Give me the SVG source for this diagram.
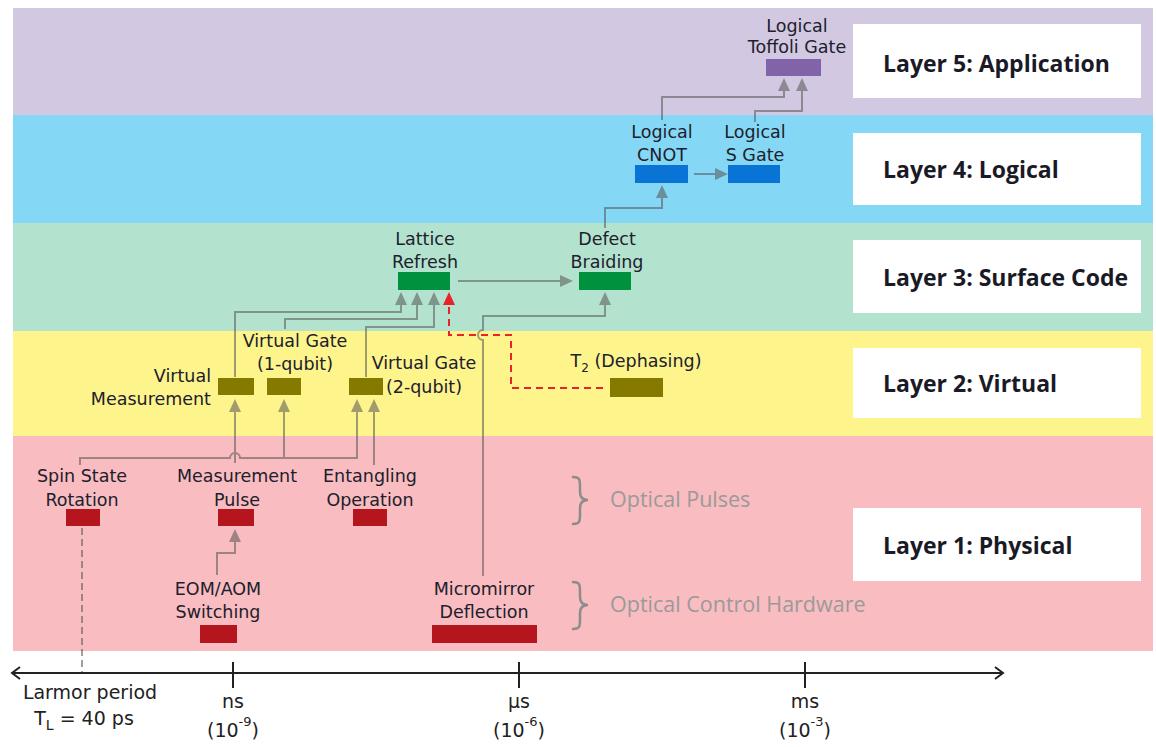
<svg xmlns="http://www.w3.org/2000/svg" width="1156" height="747" viewBox="0 0 1156 747">
<style>
.lbl{font-family:'DejaVu Sans',sans-serif;font-size:17.5px;fill:#20202c;text-anchor:middle}
.lblr{font-family:'DejaVu Sans',sans-serif;font-size:17.5px;fill:#20202c;text-anchor:end}
.layer{font-family:'Open Sans',sans-serif;font-weight:700;font-size:23px;fill:#1a1a26}
.note{font-family:'Open Sans',sans-serif;font-size:21.5px;fill:#9a9a9a}
.ax{font-family:'DejaVu Sans',sans-serif;font-size:19px;fill:#222;text-anchor:middle}
.box{fill:#ffffff}
.conn{fill:none;stroke:#555;stroke-width:2}
.red{fill:none;stroke:#e8232b;stroke-width:2;stroke-dasharray:7 5}
.brace{fill:none;stroke:#8c8c8c;stroke-width:2.5;stroke-linecap:round}
.axis{fill:none;stroke:#222;stroke-width:2}
.app{fill:#8063a9}.log{fill:#0a74d6}.sc{fill:#00913f}.vir{fill:#857900}.phy{fill:#b5161e}
</style>
<defs>
<marker id="ah" markerUnits="userSpaceOnUse" markerWidth="13" markerHeight="12" refX="0" refY="6" orient="auto" viewBox="0 0 13 12"><path d="M0,0 L13,6 L0,12 z" fill="#555"/></marker>
<marker id="ahr" markerUnits="userSpaceOnUse" markerWidth="13" markerHeight="12" refX="0" refY="6" orient="auto" viewBox="0 0 13 12"><path d="M0,0 L13,6 L0,12 z" fill="#e8232b"/></marker>
</defs>
<rect width="1156" height="747" fill="#ffffff"/>
<g id="bands">
<rect x="13" y="8" width="1140" height="107" fill="#d3c8e1"/>
<rect x="13" y="115" width="1140" height="108" fill="#84d8f5"/>
<rect x="13" y="223" width="1140" height="108" fill="#b3e3ce"/>
<rect x="13" y="331" width="1140" height="105" fill="#fef48c"/>
<rect x="13" y="436" width="1140" height="215" fill="#f9bcc0"/>
</g>
<g id="layer-labels">
<g id="layer5"><rect class="box" x="853" y="24" width="288" height="74"/><text class="layer" x="883" y="72">Layer 5: Application</text></g>
<g id="layer4"><rect class="box" x="853" y="133" width="288" height="72"/><text class="layer" x="883" y="178">Layer 4: Logical</text></g>
<g id="layer3"><rect class="box" x="853" y="240" width="288" height="73"/><text class="layer" x="883" y="286">Layer 3: Surface Code</text></g>
<g id="layer2"><rect class="box" x="853" y="348" width="288" height="70"/><text class="layer" x="883" y="392">Layer 2: Virtual</text></g>
<g id="layer1"><rect class="box" x="853" y="508" width="288" height="73"/><text class="layer" x="883" y="554">Layer 1: Physical</text></g>
</g>
<g id="connectors">
<g opacity="0.55">
<path class="conn" marker-end="url(#ah)" d="M662,120 V97 H784 V91"/>
<path class="conn" marker-end="url(#ah)" d="M755,122 V111 H802 V91"/>
<path class="conn" marker-end="url(#ah)" d="M694,174 H715"/>
<path class="conn" marker-end="url(#ah)" d="M605,228 V208 H662 V198"/>
<path class="conn" marker-end="url(#ah)" d="M458,281 H560"/>
<path class="conn" marker-end="url(#ah)" d="M235,377 V312 H401 V305"/>
<path class="conn" marker-end="url(#ah)" d="M285,329 V319 H417 V305"/>
<path class="conn" marker-end="url(#ah)" d="M366,377 V327 H434 V305"/>
<path class="conn" marker-end="url(#ah)" d="M483,576 V340 A5,5 0 0 1 483,330 V316 H605 V305"/>
<path class="conn" marker-end="url(#ah)" d="M80,465 V458 H230 A5,5 0 0 1 240,458 H357 V412"/>
<path class="conn" marker-end="url(#ah)" d="M284,458 V412"/>
<path class="conn" marker-end="url(#ah)" d="M235,463 V412"/>
<path class="conn" marker-end="url(#ah)" d="M374,465 V412"/>
<path class="conn" marker-end="url(#ah)" d="M217,575 V553 H235 V542"/>
<path class="conn" stroke-width="1.5" stroke-dasharray="7 4" d="M82,528 V673"/>
</g>
<path class="red" marker-end="url(#ahr)" d="M603,388 H511 V335 H449 V305"/>
</g>
<g id="n-toffoli"><rect class="app" x="766" y="59" width="55" height="17"/><text class="lbl" x="797" y="32">Logical</text><text class="lbl" x="797" y="53">Toffoli Gate</text></g>
<g id="n-cnot"><rect class="log" x="635" y="165" width="53" height="18"/><text class="lbl" x="662" y="138">Logical</text><text class="lbl" x="662" y="161">CNOT</text></g>
<g id="n-sgate"><rect class="log" x="728" y="165" width="52" height="18"/><text class="lbl" x="755" y="138">Logical</text><text class="lbl" x="755" y="161">S Gate</text></g>
<g id="n-lattice"><rect class="sc" x="398" y="272" width="52" height="18"/><text class="lbl" x="425" y="245">Lattice</text><text class="lbl" x="425" y="268">Refresh</text></g>
<g id="n-defect"><rect class="sc" x="579" y="272" width="52" height="18"/><text class="lbl" x="607" y="245">Defect</text><text class="lbl" x="607" y="268">Braiding</text></g>
<g id="n-vmeas"><rect class="vir" x="218" y="378" width="36" height="17"/><text class="lblr" x="211" y="382">Virtual</text><text class="lblr" x="211" y="405">Measurement</text></g>
<g id="n-vg1"><rect class="vir" x="267" y="378" width="34" height="17"/><text class="lbl" x="295" y="347">Virtual Gate</text><text class="lbl" x="295" y="370">(1-qubit)</text></g>
<g id="n-vg2"><rect class="vir" x="349" y="378" width="34" height="17"/><text class="lbl" x="424" y="369">Virtual Gate</text><text class="lbl" x="424" y="393">(2-qubit)</text></g>
<g id="n-t2"><rect class="vir" x="610" y="378" width="53" height="19"/><text class="lbl" x="636" y="367">T<tspan dy="5" font-size="12">2</tspan><tspan dy="-5"> (Dephasing)</tspan></text></g>
<g id="n-spin"><rect class="phy" x="66" y="509" width="34" height="17"/><text class="lbl" x="82" y="482">Spin State</text><text class="lbl" x="82" y="506">Rotation</text></g>
<g id="n-mpulse"><rect class="phy" x="218" y="509" width="36" height="17"/><text class="lbl" x="237" y="482">Measurement</text><text class="lbl" x="237" y="506">Pulse</text></g>
<g id="n-entangle"><rect class="phy" x="353" y="509" width="34" height="17"/><text class="lbl" x="370" y="482">Entangling</text><text class="lbl" x="370" y="506">Operation</text></g>
<g id="n-eom"><rect class="phy" x="200" y="625" width="37" height="18"/><text class="lbl" x="218" y="595">EOM/AOM</text><text class="lbl" x="218" y="618">Switching</text></g>
<g id="n-micro"><rect class="phy" x="432" y="625" width="105" height="18"/><text class="lbl" x="484" y="595">Micromirror</text><text class="lbl" x="484" y="618">Deflection</text></g>
<g id="annotations">
<path class="brace" d="M573,477 C580,477 580,480 580,487 V492 C580,498 583,500 588,500 C583,500 580,502 580,508 V514 C580,521 580,524 573,524"/>
<text class="note" x="610" y="507">Optical Pulses</text>
<path class="brace" d="M573,582 C580,582 580,585 580,592 V597 C580,603 583,605 588,605 C583,605 580,607 580,613 V619 C580,626 580,629 573,629"/>
<text class="note" x="610" y="612">Optical Control Hardware</text>
</g>
<g id="axis">
<path class="axis" d="M12,673 H1003"/>
<path class="axis" d="M20,667 L12,673 L20,679"/>
<path class="axis" d="M995,667 L1003,673 L995,679"/>
<path class="axis" d="M233,662 V688 M519,662 V688 M805,662 V688"/>
<text class="ax" x="90" y="699">Larmor period</text>
<text class="ax" x="84" y="725">T<tspan dy="5" font-size="14">L</tspan><tspan dy="-5"> = 40 ps</tspan></text>
<text class="ax" x="233" y="708">ns</text>
<text class="ax" x="233" y="737">(10<tspan dy="-11" font-size="13">-9</tspan><tspan dy="11">)</tspan></text>
<text class="ax" x="519" y="708">µs</text>
<text class="ax" x="519" y="737">(10<tspan dy="-11" font-size="13">-6</tspan><tspan dy="11">)</tspan></text>
<text class="ax" x="805" y="708">ms</text>
<text class="ax" x="805" y="737">(10<tspan dy="-11" font-size="13">-3</tspan><tspan dy="11">)</tspan></text>
</g>
</svg>
